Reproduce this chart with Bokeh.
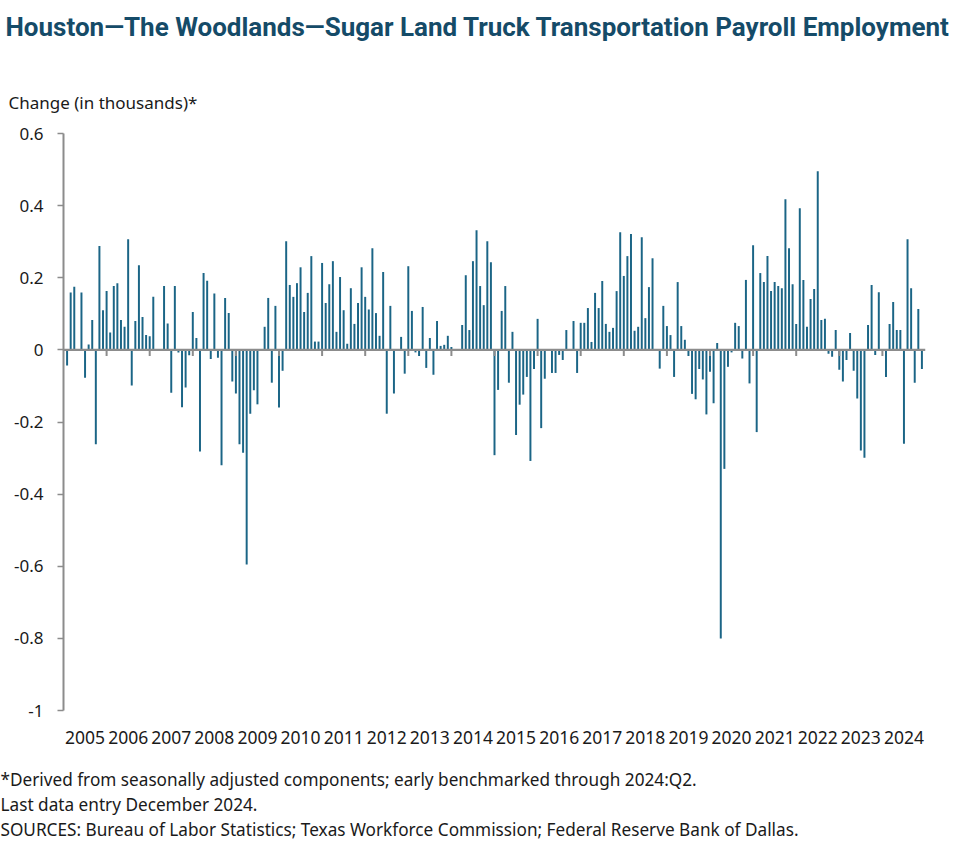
import pandas as pd
from bokeh.plotting import figure
from bokeh.models import Range1d, FixedTicker, Title, NumeralTickFormatter, ColumnDataSource
from bokeh.embed import file_html
from bokeh.resources import INLINE

# ---- data -------------------------------------------------------------
years = [str(y) for y in range(2005, 2025)]
first_month = "2005-02-01"   # first monthly change shown (Feb 2005)
y_ticks = [-1, -0.8, -0.6, -0.4, -0.2, 0, 0.2, 0.4, 0.6]

# monthly change in employment, thousands (Feb 2005 - Dec 2024)
change = [
    -0.043, 0.159, 0.175, 0.0, 0.159, -0.077, 0.015, 0.083, -0.262, 0.288, 0.110,
    0.163, 0.048, 0.177, 0.185, 0.083, 0.064, 0.307, -0.099, 0.080, 0.235, 0.091, 0.041,
    0.038, 0.147, 0.0, 0.0, 0.177, 0.073, -0.119, 0.177, -0.007, -0.159, -0.104, -0.015,
    0.105, 0.033, -0.282, 0.213, 0.192, -0.025, 0.156, -0.022, -0.320, 0.144, 0.102, -0.088,
    -0.121, -0.262, -0.285, -0.595, -0.177, -0.112, -0.151, 0.0, 0.064, 0.144, -0.091, 0.122,
    -0.160, -0.058, 0.301, 0.180, 0.147, 0.185, 0.229, 0.105, 0.158, 0.260, 0.023, 0.023,
    0.241, 0.130, 0.182, 0.246, 0.050, 0.202, 0.110, 0.017, 0.171, 0.072, 0.130, 0.229,
    0.147, 0.112, 0.282, 0.102, 0.039, 0.216, -0.177, 0.122, -0.121, 0.0, 0.036, -0.066,
    0.232, 0.108, -0.007, -0.017, 0.119, -0.050, 0.033, -0.069, 0.080, 0.011, 0.014, 0.039,
    0.008, 0.0, 0.0, 0.069, 0.207, 0.055, 0.246, 0.332, 0.177, 0.124, 0.301, 0.243,
    -0.292, -0.111, 0.108, 0.177, -0.091, 0.050, -0.236, -0.152, -0.124, -0.075, -0.308, -0.053,
    0.086, -0.217, -0.080, 0.0, -0.064, -0.064, -0.014, -0.028, 0.055, 0.0, 0.080, -0.064,
    0.075, 0.075, 0.116, 0.022, 0.158, 0.116, 0.191, 0.072, 0.050, 0.061, 0.163, 0.326,
    0.205, 0.260, 0.321, 0.053, 0.064, 0.312, 0.088, 0.174, 0.254, 0.0, -0.052, 0.122,
    0.066, 0.041, -0.075, 0.188, 0.066, 0.028, -0.017, -0.122, -0.137, -0.053, -0.082, -0.179,
    -0.061, -0.148, 0.019, -0.800, -0.330, -0.047, -0.007, 0.075, 0.066, -0.024, 0.194, -0.093,
    0.290, -0.228, 0.213, 0.188, 0.260, 0.163, 0.188, 0.177, 0.171, 0.418, 0.282, 0.182,
    0.072, 0.393, 0.194, 0.064, 0.141, 0.169, 0.495, 0.083, 0.086, -0.011, -0.019, 0.055,
    -0.055, -0.088, -0.028, 0.047, -0.058, -0.135, -0.279, -0.299, 0.069, 0.180, -0.014, 0.160,
    0.0, -0.075, 0.072, 0.133, 0.055, 0.055, -0.260, 0.307, 0.171, -0.091, 0.113, -0.053,
]

# ---- positions (months since Jan 2005) --------------------------------
dates = pd.date_range(first_month, periods=len(change), freq="MS")
base_year = int(years[0])
month_pos = [(d.year - base_year) * 12 + (d.month - 1) for d in dates]
n_months = len(years) * 12
year_bounds = [12 * k for k in range(1, len(years))]
year_centers = [12 * k + 6 for k in range(len(years))]

BAR = "#1b6586"
GRAY = "#8c8c8c"
TITLE_C = "#154b68"
FONT = "Noto Sans"
TXT = "#1a1a1a"

p = figure(width=977, height=864,
           x_range=Range1d(0, n_months), y_range=Range1d(y_ticks[0], y_ticks[-1]),
           output_backend="svg", toolbar_location=None,
           min_border_left=63, min_border_right=52,
           min_border_top=133, min_border_bottom=154)
p.outline_line_color = None
p.xgrid.grid_line_color = None
p.ygrid.grid_line_color = None
p.background_fill_color = "white"
p.border_fill_color = "white"

src = ColumnDataSource(dict(x=month_pos, top=change))
p.vbar(x="x", top="top", bottom=0, width=0.55, source=src,
       fill_color=BAR, line_color=None)

# zero line and year-boundary ticks
p.line(x=[0, n_months], y=[0, 0], line_color=GRAY, line_width=2.2)
p.segment(x0=year_bounds, y0=[0] * len(year_bounds), x1=year_bounds,
          y1=[-0.017] * len(year_bounds), line_color=GRAY, line_width=2)

# y axis
ya = p.yaxis[0]
ya.ticker = FixedTicker(ticks=y_ticks)
ya.formatter = NumeralTickFormatter(format="0.[0]")
ya.axis_line_color = GRAY
ya.axis_line_width = 2
ya.major_tick_line_color = GRAY
ya.major_tick_line_width = 1.5
ya.major_tick_out = 6
ya.major_tick_in = 0
ya.minor_tick_line_color = None
ya.major_label_standoff = 14
ya.major_label_text_font = FONT
ya.major_label_text_font_size = "17px"
ya.major_label_text_color = TXT

# x axis: year labels only
xa = p.xaxis[0]
xa.ticker = FixedTicker(ticks=year_centers)
xa.major_label_overrides = {c: y for c, y in zip(year_centers, years)}
xa.axis_line_color = None
xa.major_tick_line_color = None
xa.minor_tick_line_color = None
xa.major_tick_out = 0
xa.major_label_standoff = 20
xa.major_label_text_font = FONT
xa.major_label_text_font_size = "17.5px"
xa.major_label_text_color = TXT

# titles above (added nearest-first)
p.add_layout(Title(text="Change (in thousands)*", align="left", offset=-55,
                   text_font=FONT, text_font_size="17px", text_font_style="normal",
                   text_color=TXT, standoff=40), "above")
p.add_layout(Title(text=" ", text_font_size="1px", standoff=16), "above")
p.add_layout(Title(text="Houston\u2014The Woodlands\u2014Sugar Land Truck Transportation Payroll Employment",
                   align="left", offset=-58, text_font="Roboto", text_font_size="26px",
                   text_font_style="bold", text_color=TITLE_C, standoff=15), "above")

# footnotes below
notes = [
    "*Derived from seasonally adjusted components; early benchmarked through 2024:Q2.",
    "Last data entry December 2024.",
    "SOURCES: Bureau of Labor Statistics; Texas Workforce Commission; Federal Reserve Bank of Dallas.",
]
p.add_layout(Title(text=" ", text_font_size="1px", standoff=16), "below")
for t in notes:
    p.add_layout(Title(text=t, align="left", offset=-63, text_font=FONT,
                       text_font_size="17.2px", text_font_style="normal",
                       text_color=TXT, standoff=0), "below")

open("out.html", "w").write(file_html(p, INLINE))
